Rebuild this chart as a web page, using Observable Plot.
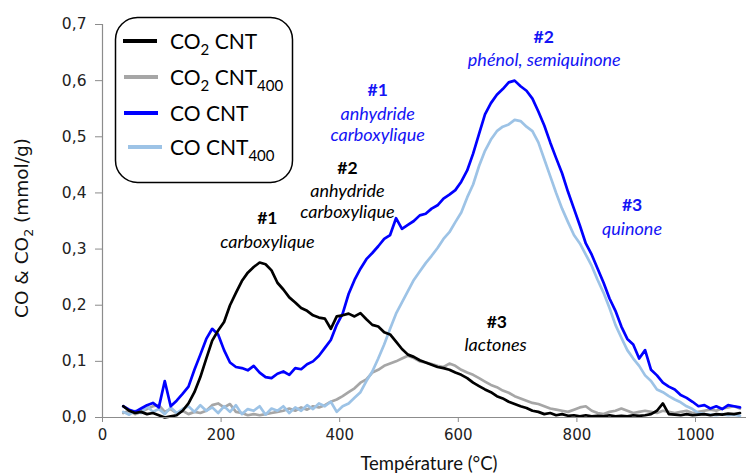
<!DOCTYPE html>
<html>
<head>
<meta charset="utf-8">
<script src="https://cdn.jsdelivr.net/npm/d3@7"></script>
<script src="https://cdn.jsdelivr.net/npm/@observablehq/plot@0.6"></script>
<style>
  html, body { margin: 0; padding: 0; background: #fff; }
  #chart { position: relative; width: 746px; height: 473px; }
</style>
</head>
<body>
<div id="chart"></div>
<script>
// ---- Data ----
const temps = [
  35,45,55,65,75,85,95,105,115,125,
  135,145,155,165,175,185,195,205,215,225,
  235,245,255,265,275,285,295,305,315,325,
  335,345,355,365,375,385,395,405,415,425,
  435,445,455,465,475,485,495,505,515,525,
  535,545,555,565,575,585,595,605,615,625,
  635,645,655,665,675,685,695,705,715,725,
  735,745,755,765,775,785,795,805,815,825,
  835,845,855,865,875,885,895,905,915,925,
  935,945,955,965,975,985,995,1005,1015,1025,
  1035,1045,1055,1065,1075
];

const co2CNT = [
  0.020,0.012,0.008,0.010,0.006,0.008,0.004,0.000,0.002,0.004,
  0.012,0.025,0.045,0.072,0.105,0.137,0.155,0.170,0.200,0.222,
  0.243,0.258,0.268,0.276,0.273,0.262,0.240,0.228,0.214,0.205,
  0.195,0.190,0.182,0.178,0.176,0.158,0.180,0.182,0.185,0.180,
  0.186,0.175,0.165,0.162,0.152,0.148,0.135,0.122,0.112,0.108,
  0.102,0.098,0.094,0.090,0.088,0.085,0.080,0.076,0.070,0.062,
  0.056,0.050,0.045,0.038,0.034,0.028,0.024,0.020,0.017,0.012,
  0.010,0.006,0.008,0.004,0.006,0.003,0.004,0.002,0.004,0.002,
  0.003,0.002,0.004,0.002,0.003,0.002,0.004,0.003,0.004,0.006,
  0.012,0.025,0.006,0.005,0.004,0.006,0.004,0.005,0.006,0.004,
  0.006,0.005,0.007,0.006,0.008
];

const co2CNT400 = [
  0.008,0.012,0.006,0.010,0.015,0.020,0.022,0.010,0.015,0.008,
  0.012,0.006,0.010,0.008,0.012,0.022,0.025,0.018,0.024,0.010,
  0.008,0.004,0.006,0.004,0.006,0.008,0.010,0.012,0.016,0.012,
  0.018,0.014,0.020,0.018,0.022,0.028,0.032,0.038,0.045,0.052,
  0.062,0.068,0.080,0.085,0.092,0.096,0.100,0.105,0.110,0.106,
  0.100,0.098,0.095,0.092,0.090,0.096,0.092,0.085,0.080,0.076,
  0.070,0.064,0.058,0.054,0.048,0.044,0.038,0.034,0.030,0.026,
  0.024,0.020,0.016,0.014,0.012,0.010,0.014,0.018,0.020,0.012,
  0.008,0.006,0.010,0.012,0.016,0.012,0.008,0.010,0.012,0.010,
  0.008,0.012,0.010,0.008,0.010,0.012,0.008,0.010,0.012,0.014,
  0.012,0.016,0.018,0.020,0.016
];

const coCNT = [
  0.020,0.014,0.010,0.016,0.022,0.026,0.018,0.065,0.020,0.030,
  0.042,0.055,0.085,0.112,0.140,0.158,0.148,0.120,0.098,0.090,
  0.088,0.084,0.092,0.080,0.072,0.070,0.078,0.082,0.076,0.088,
  0.086,0.095,0.100,0.110,0.124,0.138,0.165,0.185,0.220,0.245,
  0.265,0.282,0.293,0.305,0.318,0.325,0.355,0.336,0.343,0.350,
  0.360,0.363,0.372,0.378,0.390,0.397,0.405,0.420,0.440,0.470,
  0.505,0.540,0.560,0.575,0.585,0.597,0.600,0.590,0.582,0.568,
  0.545,0.520,0.490,0.462,0.435,0.402,0.372,0.342,0.310,0.290,
  0.265,0.240,0.212,0.190,0.162,0.140,0.130,0.105,0.120,0.085,
  0.075,0.062,0.055,0.050,0.040,0.035,0.028,0.020,0.022,0.016,
  0.020,0.015,0.022,0.020,0.018
];

const coCNT400 = [
  0.010,0.005,0.012,0.008,0.020,0.010,0.015,0.006,0.018,0.008,
  0.015,0.020,0.010,0.022,0.012,0.018,0.008,0.020,0.010,0.022,
  0.006,0.015,0.012,0.020,0.005,0.016,0.012,0.020,0.008,0.018,
  0.012,0.022,0.015,0.025,0.020,0.028,0.010,0.020,0.025,0.035,
  0.045,0.065,0.082,0.105,0.130,0.158,0.185,0.205,0.225,0.245,
  0.260,0.275,0.288,0.302,0.318,0.330,0.348,0.365,0.392,0.415,
  0.448,0.475,0.495,0.510,0.518,0.522,0.530,0.528,0.518,0.510,
  0.490,0.460,0.430,0.400,0.372,0.348,0.325,0.310,0.290,0.270,
  0.245,0.222,0.195,0.165,0.142,0.120,0.105,0.092,0.075,0.065,
  0.050,0.045,0.038,0.032,0.027,0.020,0.015,0.008,0.006,0.005,
  0.004,0.006,0.004,0.005,0.003
];

const xTicks = [0, 200, 400, 600, 800, 1000];
const yTicks = [0, 0.1, 0.2, 0.3, 0.4, 0.5, 0.6, 0.7];

const annotations = [
  {text: "#1", t: 464, v: 0.582, gas: "CO", bold: true},
  {text: "anhydride", t: 464, v: 0.541, gas: "CO", bold: false},
  {text: "carboxylique", t: 464, v: 0.502, gas: "CO", bold: false},
  {text: "#2", t: 744, v: 0.677, gas: "CO", bold: true},
  {text: "phénol, semiquinone", t: 745, v: 0.636, gas: "CO", bold: false},
  {text: "#3", t: 893, v: 0.377, gas: "CO", bold: true},
  {text: "quinone", t: 893, v: 0.336, gas: "CO", bold: false},
  {text: "#1", t: 278, v: 0.354, gas: "CO2", bold: true},
  {text: "carboxylique", t: 278, v: 0.312, gas: "CO2", bold: false},
  {text: "#2", t: 413, v: 0.443, gas: "CO2", bold: true},
  {text: "anhydride", t: 413, v: 0.403, gas: "CO2", bold: false},
  {text: "carboxylique", t: 413, v: 0.365, gas: "CO2", bold: false},
  {text: "#3", t: 665, v: 0.169, gas: "CO2", bold: true},
  {text: "lactones", t: 663, v: 0.128, gas: "CO2", bold: false}
];

// ---- Styles ----
const colors = {
  "CO2 CNT": "#000000",
  "CO2 CNT400": "#a6a6a6",
  "CO CNT": "#0000ff",
  "CO CNT400": "#9dc3e6"
};
const annoColor = {CO: "#1414f5", CO2: "#000000"};
const annoFont = "Lato, 'Open Sans', sans-serif";
const tickFont = "'DejaVu Sans', Verdana, sans-serif";

const lineOpts = (vals, name) => ({
  x: temps, y: vals, stroke: colors[name], strokeWidth: 2.7,
  strokeLinejoin: "round", strokeLinecap: "round"
});

const fmt = d => d.toFixed(1).replace(".", ",");

const plot = Plot.plot({
  width: 746,
  height: 473,
  marginLeft: 102,
  marginRight: 0,
  marginTop: 24,
  marginBottom: 56,
  style: {fontFamily: tickFont, fontSize: "15px", background: "#fff", color: "#222"},
  x: {domain: [0, 1086]},
  y: {domain: [0, 0.7]},
  marks: [
    Plot.axisY({ticks: yTicks, tickSize: 7, tickPadding: 9, tickFormat: fmt, label: null, stroke: "#8c8c8c", fontSize: 15.5}),
    Plot.axisX({ticks: xTicks, tickSize: 5, tickPadding: 7, tickFormat: d => String(d), label: null, stroke: "#8c8c8c", fontSize: 15}),
    Plot.line(temps, lineOpts(co2CNT400, "CO2 CNT400")),
    Plot.line(temps, lineOpts(coCNT400, "CO CNT400")),
    Plot.line(temps, lineOpts(coCNT, "CO CNT")),
    Plot.line(temps, lineOpts(co2CNT, "CO2 CNT")),
    Plot.ruleX([0], {stroke: "#8c8c8c", strokeWidth: 1.2}),
    Plot.ruleY([0], {stroke: "#8c8c8c", strokeWidth: 1.2}),
    Plot.text(annotations.filter(d => d.bold), {
      x: "t", y: "v", text: "text", fill: d => annoColor[d.gas],
      fontFamily: annoFont, fontSize: 17.5, fontWeight: "bold", textAnchor: "middle", lineAnchor: "middle"
    }),
    Plot.text(annotations.filter(d => !d.bold), {
      x: "t", y: "v", text: "text", fill: d => annoColor[d.gas],
      fontFamily: annoFont, fontSize: 18, fontStyle: "italic", textAnchor: "middle", lineAnchor: "middle"
    })
  ]
});

document.getElementById("chart").appendChild(plot);

// ---- Axis titles and legend (SVG text) ----
const svg = d3.select(plot);

// Y title
const yt = svg.append("text")
  .attr("transform", "translate(28,318) rotate(-90)")
  .attr("text-anchor", "start")
  .attr("font-family", tickFont)
  .attr("font-size", 18.5)
  .attr("fill", "#111");
yt.append("tspan").text("CO & CO");
yt.append("tspan").attr("font-size", 12.5).attr("dy", 4.5).text("2");
yt.append("tspan").attr("dy", -4.5).text(" (mmol/g)");

// X title
svg.append("text")
  .attr("x", 429).attr("y", 470)
  .attr("text-anchor", "middle")
  .attr("font-family", annoFont)
  .attr("font-size", 18.5)
  .attr("fill", "#111")
  .text("Température (°C)");

// Legend
const lg = svg.append("g");
lg.append("rect")
  .attr("x", 115.5).attr("y", 17.5).attr("width", 177).attr("height", 165)
  .attr("rx", 22).attr("ry", 22)
  .attr("fill", "#fff").attr("stroke", "#000").attr("stroke-width", 1.5);

const legendRows = [
  {name: "CO2 CNT", main: "CO", sub: "2", rest: " CNT", sub2: null, y: 41, x1: 123},
  {name: "CO2 CNT400", main: "CO", sub: "2", rest: " CNT", sub2: "400", y: 77, x1: 124},
  {name: "CO CNT", main: "CO CNT", sub: null, rest: null, sub2: null, y: 113, x1: 124},
  {name: "CO CNT400", main: "CO CNT", sub: null, rest: null, sub2: "400", y: 147, x1: 128}
];
legendRows.forEach(r => {
  lg.append("line")
    .attr("x1", r.x1).attr("x2", r.x1 + 34)
    .attr("y1", r.y).attr("y2", r.y)
    .attr("stroke", colors[r.name]).attr("stroke-width", 4);
  const t = lg.append("text")
    .attr("x", 170).attr("y", r.y + 7.5)
    .attr("text-anchor", "start")
    .attr("font-family", annoFont)
    .attr("font-size", 21)
    .attr("fill", "#000");
  t.append("tspan").text(r.main);
  if (r.sub) {
    t.append("tspan").attr("font-size", 15).attr("dy", 6).text(r.sub);
    t.append("tspan").attr("dy", -6).text(r.rest);
  }
  if (r.sub2) {
    t.append("tspan").attr("font-size", 15).attr("dy", 6).text(r.sub2);
  }
});
</script>
</body>
</html>
